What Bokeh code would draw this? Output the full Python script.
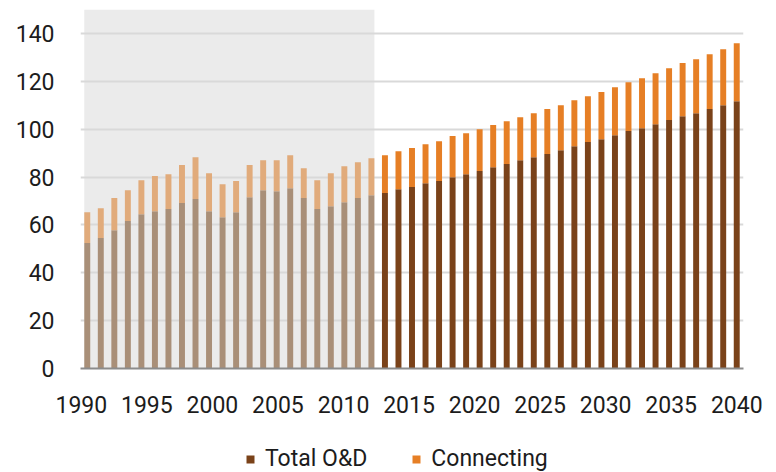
from bokeh.plotting import figure
from bokeh.layouts import column
from bokeh.models import (ColumnDataSource, FixedTicker, Range1d, BoxAnnotation,
                          Legend, LegendItem, CustomJSTickFormatter)
from bokeh.embed import file_html
from bokeh.resources import INLINE

# ---- data ----
hist_years = list(range(1990, 2012))
hist_od = [52.4, 54.5, 57.8, 61.6, 64.5, 65.7, 66.6, 69.1, 70.8, 65.7, 63.2,
           65.3, 71.6, 74.5, 74.1, 75.3, 71.2, 66.6, 67.8, 69.5, 71.2, 72.4]
hist_total = [65.3, 67.0, 71.2, 74.5, 78.7, 80.4, 81.2, 85.0, 88.3, 81.6, 77.0,
              78.3, 85.0, 87.0, 87.0, 89.1, 83.7, 78.7, 81.6, 84.5, 86.2, 87.9]

fc_years = list(range(2012, 2039))
fc_od = [73.3, 74.9, 75.8, 77.4, 78.3, 79.9, 81.2, 82.5, 84.1, 85.4, 87.0, 88.3,
         89.6, 91.2, 92.9, 94.6, 95.8, 97.5, 99.2, 100.4, 102.1, 103.8, 105.4,
         106.7, 108.4, 110.0, 111.7]
fc_total = [89.1, 90.8, 92.1, 93.7, 95.0, 97.1, 98.3, 100.0, 101.7, 103.3, 105.0,
            106.7, 108.4, 110.0, 112.1, 113.8, 115.5, 117.5, 119.6, 121.3, 123.4,
            125.5, 127.6, 129.2, 131.3, 133.4, 135.9]

hist_conn = [round(t - o, 1) for t, o in zip(hist_total, hist_od)]
fc_conn = [round(t - o, 1) for t, o in zip(fc_total, fc_od)]

series = ["Total O&D", "Connecting"]
y_ticks = [0, 20, 40, 60, 80, 100, 120, 140]
x_tick_labels = ["1990", "1995", "2000", "2005", "2010", "2015",
                 "2020", "2025", "2030", "2035", "2040"]

# ---- styles ----
FONT = "Roboto"
TXT = "#1c1c1c"
C_OD = "#7a4219"
C_CONN = "#e67f25"
C_OD_H = "#a98f78"
C_CONN_H = "#e1ab7b"
BAR_W = 0.44

hist_src = ColumnDataSource(dict(x=hist_years, od=hist_od, conn=hist_conn))
fc_src = ColumnDataSource(dict(x=fc_years, od=fc_od, conn=fc_conn))

x0 = hist_years[0] - 0.5
x1 = fc_years[-1] + 0.5

p = figure(width=768, height=445, output_backend="svg", toolbar_location=None,
           x_range=Range1d(x0, x1), y_range=Range1d(0, 150),
           min_border_left=80, min_border_right=25, min_border_top=9,
           min_border_bottom=77)
p.outline_line_color = None
p.background_fill_color = "white"
p.border_fill_color = "white"

# shaded historical period
shade = BoxAnnotation(left=hist_years[0] - BAR_W / 2, right=hist_years[-1] + BAR_W / 2,
                      bottom=0, top=150, fill_color="#ebebeb", fill_alpha=1,
                      line_color=None, level="image")
p.add_layout(shade)

rh = p.vbar_stack(["od", "conn"], x="x", width=BAR_W, source=hist_src,
                  color=[C_OD_H, C_CONN_H], line_color=None)
rf = p.vbar_stack(["od", "conn"], x="x", width=BAR_W, source=fc_src,
                  color=[C_OD, C_CONN], line_color=None)

# y axis
p.yaxis.ticker = FixedTicker(ticks=y_ticks)
p.yaxis.axis_line_color = None
p.yaxis.major_tick_line_color = None
p.yaxis.minor_tick_line_color = None
p.yaxis.major_label_text_font = FONT
p.yaxis.major_label_text_font_size = "23px"
p.yaxis.major_label_text_color = TXT
p.yaxis.major_label_standoff = 20

p.ygrid.ticker = FixedTicker(ticks=y_ticks[1:])
p.ygrid.grid_line_color = "#d9d9d9"
p.ygrid.grid_line_width = 2
p.xgrid.grid_line_color = None

# x axis: labels spread evenly across the bar span
n_lab = len(x_tick_labels)
span_start = hist_years[0] - 0.44
span_end = fc_years[-1]
step = (span_end - span_start) / (n_lab - 1)
tick_pos = [span_start + i * step for i in range(n_lab)]
p.xaxis.ticker = FixedTicker(ticks=tick_pos)
p.xaxis.formatter = CustomJSTickFormatter(
    args=dict(start=span_start, step=step, labels=x_tick_labels),
    code="const i = Math.round((tick - start) / step); return labels[i];")
p.xaxis.axis_line_color = "#8c8c8c"
p.xaxis.axis_line_width = 2
p.xaxis.major_tick_line_color = None
p.xaxis.minor_tick_line_color = None
p.xaxis.major_label_text_font = FONT
p.xaxis.major_label_text_font_size = "23px"
p.xaxis.major_label_text_color = TXT
p.xaxis.major_label_standoff = 21

# ---- legend strip below the chart ----
lg = figure(width=768, height=27, output_backend="svg", toolbar_location=None,
            x_range=Range1d(x0, x1), y_range=Range1d(-20, -10),
            x_axis_location=None, y_axis_location=None,
            min_border_left=80, min_border_right=25, min_border_top=0,
            min_border_bottom=0)
lg.grid.visible = False
lg.outline_line_color = None
lg.background_fill_alpha = 0
lg.border_fill_alpha = 0
# legend keys: hidden renderers on the forecast source (only their legend swatch shows)
k_od = lg.vbar(x="x", top="od", bottom="od", width=BAR_W, source=fc_src,
               color=C_OD, line_color=None, visible=False)
k_conn = lg.vbar(x="x", top="conn", bottom="conn", width=BAR_W, source=fc_src,
                 color=C_CONN, line_color=None, visible=False)
legend = Legend(items=[LegendItem(label=series[0], renderers=[k_od]),
                       LegendItem(label=series[1], renderers=[k_conn])],
                orientation="horizontal", location=(165, 0),
                glyph_width=10, glyph_height=10, label_standoff=10, spacing=44,
                padding=0, margin=0, border_line_color=None,
                background_fill_alpha=0, inactive_fill_alpha=0,
                label_text_font=FONT, label_text_font_size="23px",
                label_text_color=TXT)
lg.add_layout(legend, "center")

layout = column(p, lg, spacing=0)
open("out.html", "w").write(file_html(layout, INLINE))
